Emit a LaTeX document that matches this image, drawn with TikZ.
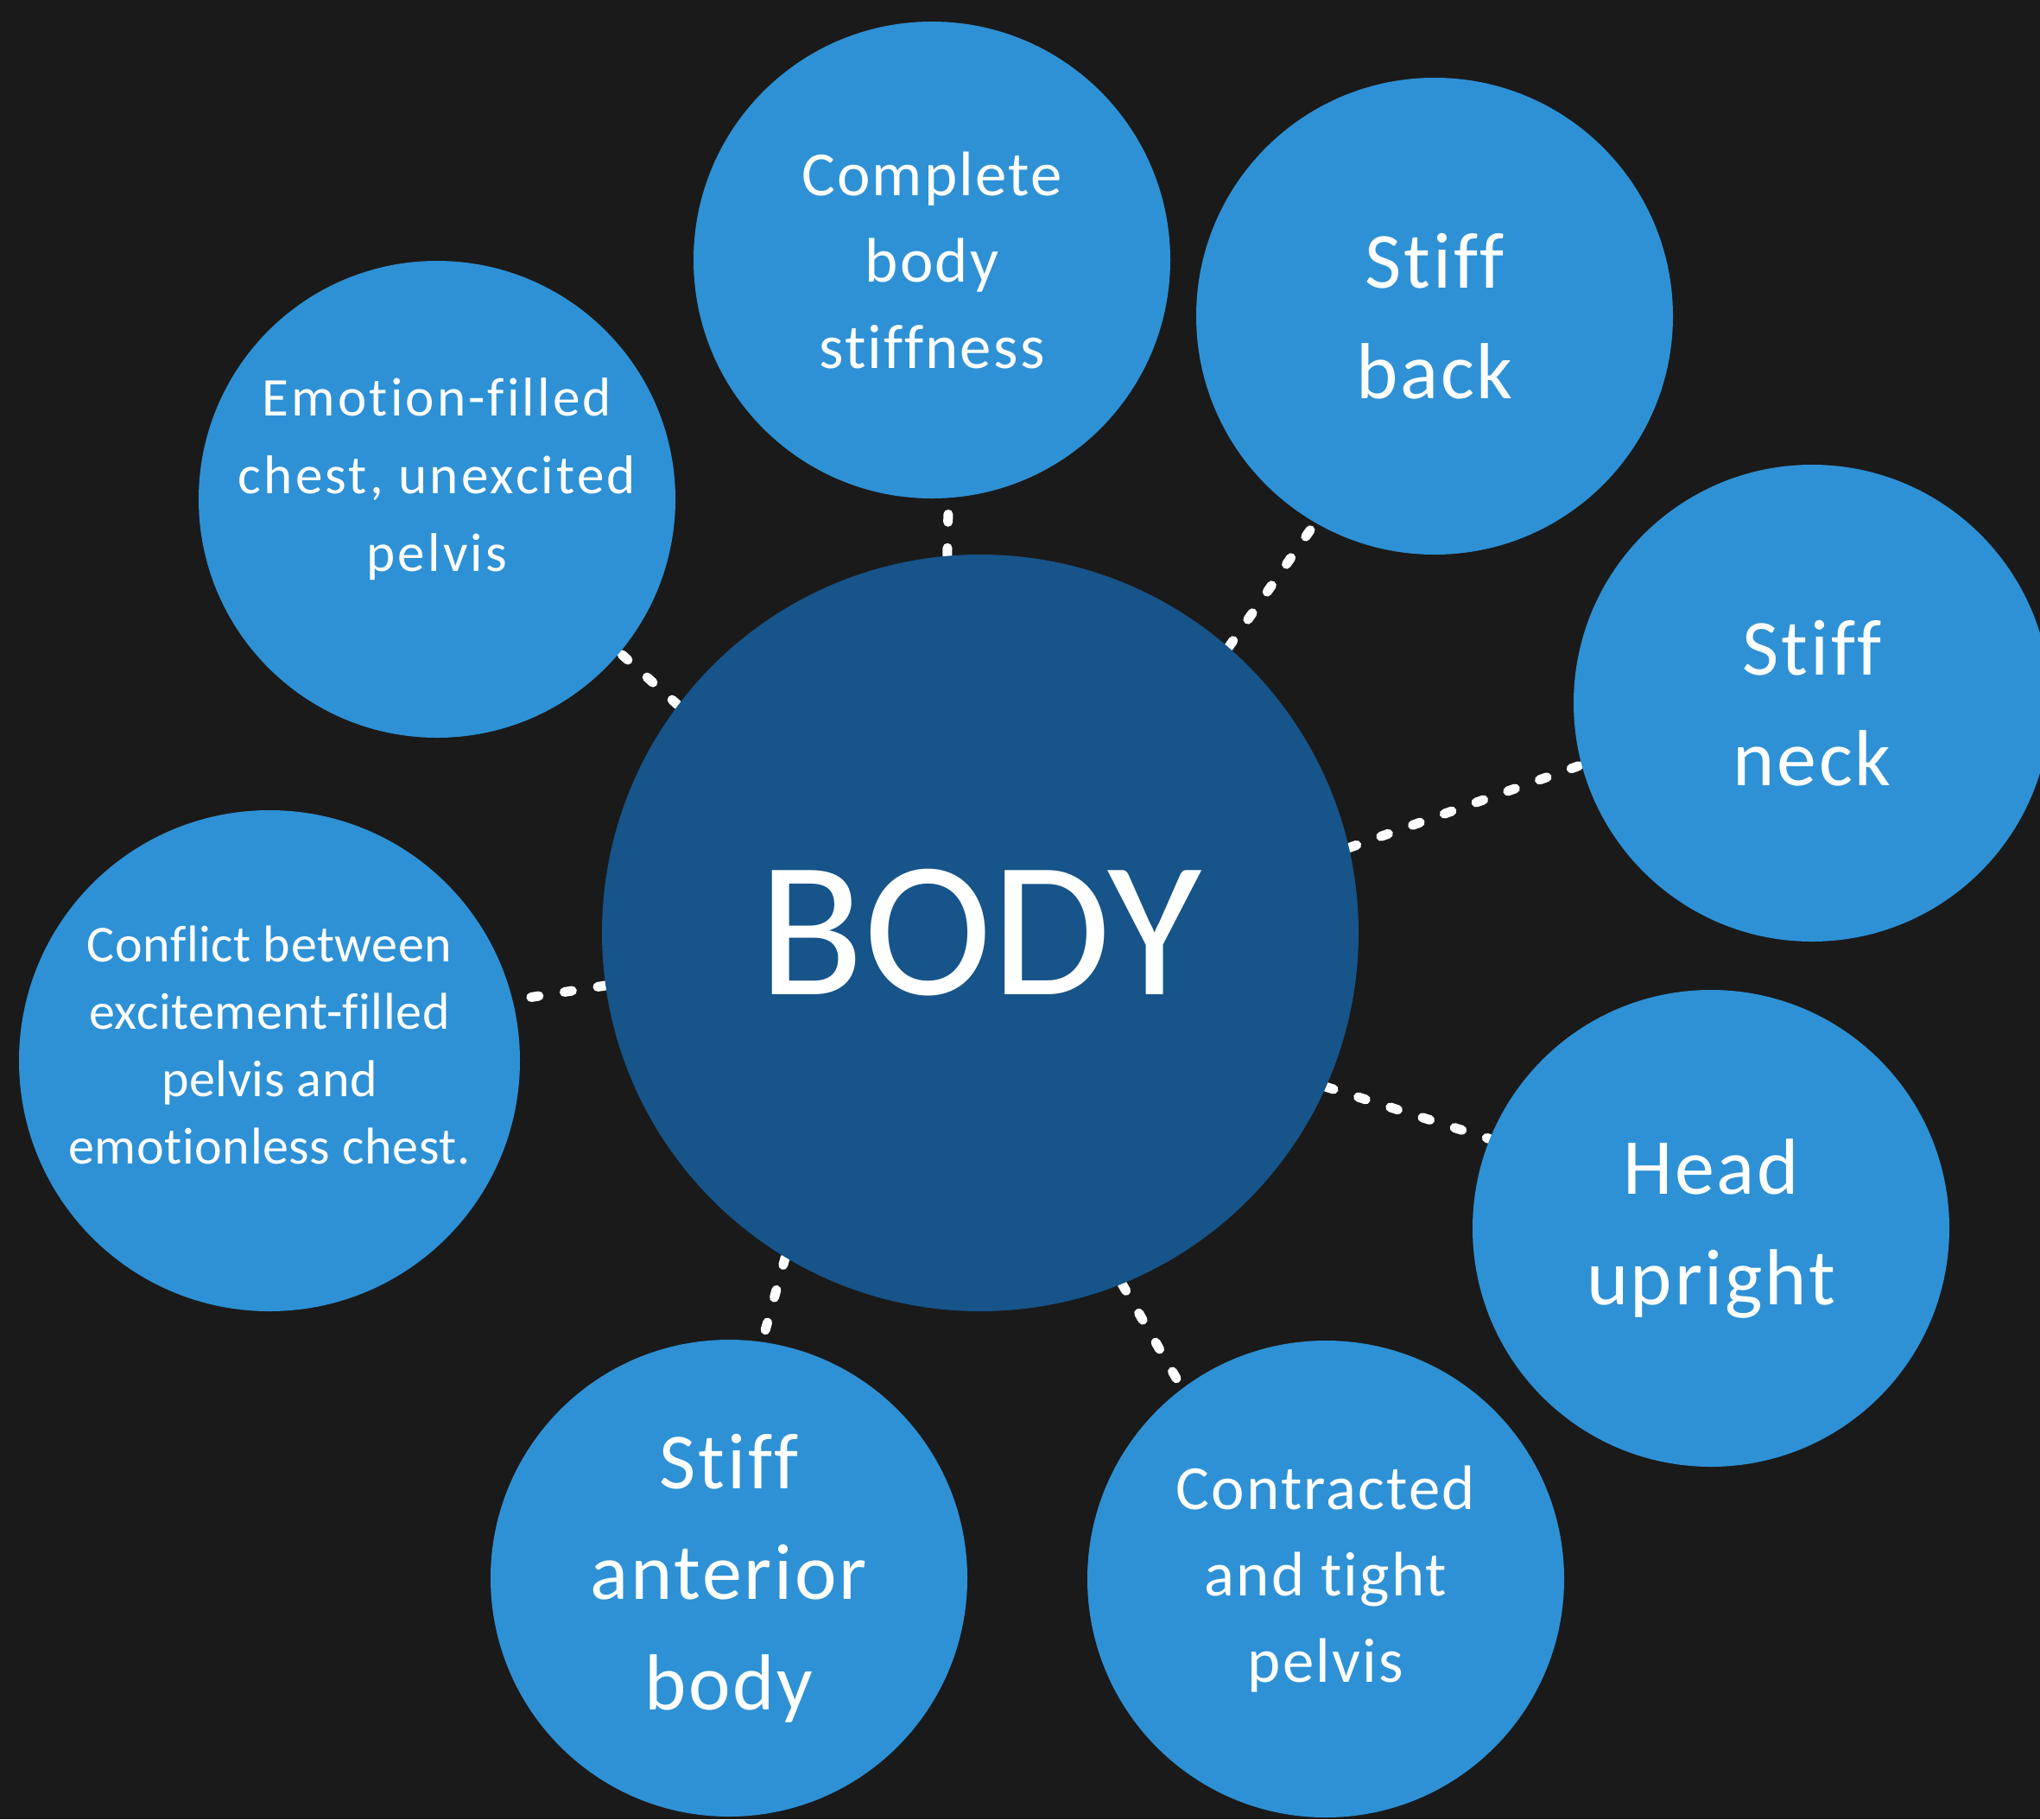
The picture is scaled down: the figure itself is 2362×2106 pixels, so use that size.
\documentclass[tikz,border=0pt]{standalone}
\usepackage{fontspec}
\setmainfont{Carlito}[Ligatures=NoCommon]
\newfontfamily\bubblefont{Carlito}[LetterSpace=3,Ligatures=NoCommon]
\newfontfamily\widefont{Carlito}[LetterSpace=5,Ligatures=NoCommon]
\newfontfamily\tightfont{Carlito}[LetterSpace=1,Ligatures=NoCommon]
\usetikzlibrary{backgrounds}

\definecolor{bgdark}{RGB}{26,26,26}
\definecolor{bubbleblue}{RGB}{46,145,213}
\definecolor{hubblue}{RGB}{22,84,138}

\begin{document}
\begin{tikzpicture}[x=0.5pt,y=-0.5pt,
  bubble/.style={circle, fill=bubbleblue, text=white, inner sep=0pt, minimum size=276pt, align=center},
  hub/.style={circle, fill=hubblue, text=white, inner sep=0pt, minimum size=438pt, font=\fontsize{112}{130}\selectfont},
  bigtext/.style={font=\bubblefont\fontsize{46}{64}\selectfont},
  midtext/.style={font=\bubblefont\fontsize{36.4}{50}\selectfont},
  link/.style={draw=white, line width=5.5pt, line cap=round, dash pattern=on 4.5pt off 15pt}]
\useasboundingbox (0,0) rectangle (2362,2106);
\clip (0,0) rectangle (2362,2106);
\node[hub] (body) at (1135,1080) {BODY};
\node[bubble, midtext] (whole) at (1079,301) {Complete\\body\\stiffness};
\node[bubble, bigtext] (back) at (1661,366) {Stiff\\back};
\node[bubble, bigtext] (neck) at (2098,814) {Stiff\\neck};
\node[bubble, bigtext] (head) at (1981,1422) {Head\\upright};
\node[bubble, midtext] (pelvis) at (1535,1828) {Contracted\\and tight\\pelvis};
\node[bubble, bigtext] (front) at (844,1827) {Stiff\\anterior\\body};
\node[bubble, minimum size=290pt, text depth=18pt, font=\tightfont\fontsize{30}{39}\selectfont] (conflict) at (312,1228) {Conflict between\\excitement-filled\\pelvis and\\emotionless chest.};
\node[bubble, text depth=28pt, font=\widefont\fontsize{31.6}{45}\selectfont] (chest) at (506,578) {Emotion-filled\\chest, unexcited\\pelvis};
\begin{scope}[on background layer]
\fill[bgdark] (0,0) rectangle (2362,2106);
\foreach \a/\n/\b in {95/whole/274, 49/back/240, 13/neck/195, -24/head/158,
  -68/pelvis/127, -121/front/82, 188/conflict/14, 143/chest/320}
  \draw[link] (body.\a) -- (\n.\b);
\end{scope}
\end{tikzpicture}
\end{document}
